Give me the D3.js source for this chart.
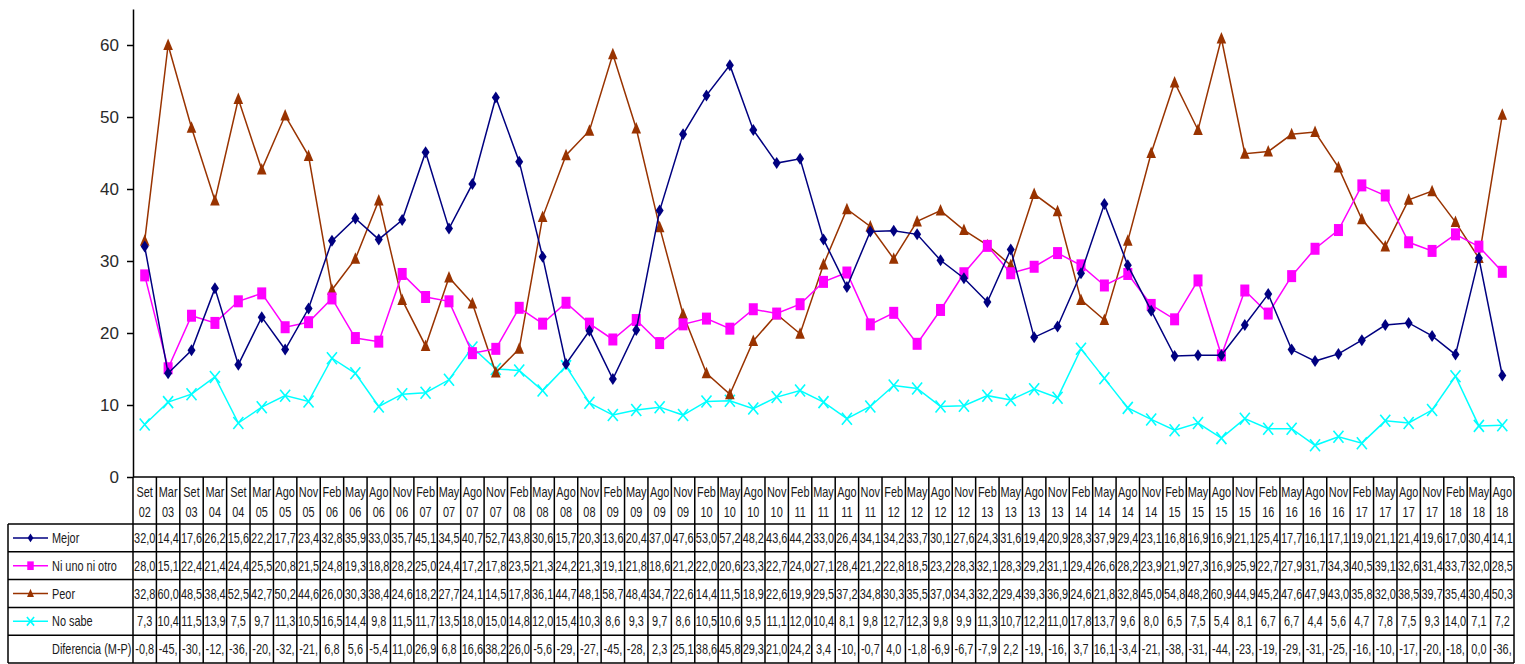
<!DOCTYPE html>
<html>
<head>
<meta charset="utf-8">
<script src="https://cdn.jsdelivr.net/npm/d3@7"></script>
<style>
  html, body { margin: 0; padding: 0; background: #fff; }
  svg { display: block; font-family: "Liberation Sans", Arial, sans-serif; }
</style>
</head>
<body>
<svg id="chart" width="1525" height="664"></svg>
<script>
(function () {
  'use strict';

  var periods = [
    'Set 02','Mar 03','Set 03','Mar 04','Set 04','Mar 05','Ago 05','Nov 05','Feb 06','May 06',
    'Ago 06','Nov 06','Feb 07','May 07','Ago 07','Nov 07','Feb 08','May 08','Ago 08','Nov 08',
    'Feb 09','May 09','Ago 09','Nov 09','Feb 10','May 10','Ago 10','Nov 10','Feb 11','May 11',
    'Ago 11','Nov 11','Feb 12','May 12','Ago 12','Nov 12','Feb 13','May 13','Ago 13','Nov 13',
    'Feb 14','May 14','Ago 14','Nov 14','Feb 15','May 15','Ago 15','Nov 15','Feb 16','May 16',
    'Ago 16','Nov 16','Feb 17','May 17','Ago 17','Nov 17','Feb 18','May 18','Ago 18'
  ];

  var mejor = [32.0,14.4,17.6,26.2,15.6,22.2,17.7,23.4,32.8,35.9,
    33.0,35.7,45.1,34.5,40.7,52.7,43.8,30.6,15.7,20.3,
    13.6,20.4,37.0,47.6,53.0,57.2,48.2,43.6,44.2,33.0,
    26.4,34.1,34.2,33.7,30.1,27.6,24.3,31.6,19.4,20.9,
    28.3,37.9,29.4,23.1,16.8,16.9,16.9,21.1,25.4,17.7,
    16.1,17.1,19.0,21.1,21.4,19.6,17.0,30.4,14.1];

  var niUnoNiOtro = [28.0,15.1,22.4,21.4,24.4,25.5,20.8,21.5,24.8,19.3,
    18.8,28.2,25.0,24.4,17.2,17.8,23.5,21.3,24.2,21.3,
    19.1,21.8,18.6,21.2,22.0,20.6,23.3,22.7,24.0,27.1,
    28.4,21.2,22.8,18.5,23.2,28.3,32.1,28.3,29.2,31.1,
    29.4,26.6,28.2,23.9,21.9,27.3,16.9,25.9,22.7,27.9,
    31.7,34.3,40.5,39.1,32.6,31.4,33.7,32.0,28.5];

  var peor = [32.8,60.0,48.5,38.4,52.5,42.7,50.2,44.6,26.0,30.3,
    38.4,24.6,18.2,27.7,24.1,14.5,17.8,36.1,44.7,48.1,
    58.7,48.4,34.7,22.6,14.4,11.5,18.9,22.6,19.9,29.5,
    37.2,34.8,30.3,35.5,37.0,34.3,32.2,29.4,39.3,36.9,
    24.6,21.8,32.8,45.0,54.8,48.2,60.9,44.9,45.2,47.6,
    47.9,43.0,35.8,32.0,38.5,39.7,35.4,30.4,50.3];

  var noSabe = [7.3,10.4,11.5,13.9,7.5,9.7,11.3,10.5,16.5,14.4,
    9.8,11.5,11.7,13.5,18.0,15.0,14.8,12.0,15.4,10.3,
    8.6,9.3,9.7,8.6,10.5,10.6,9.5,11.1,12.0,10.4,
    8.1,9.8,12.7,12.3,9.8,9.9,11.3,10.7,12.2,11.0,
    17.8,13.7,9.6,8.0,6.5,7.5,5.4,8.1,6.7,6.7,
    4.4,5.6,4.7,7.8,7.5,9.3,14.0,7.1,7.2];

  // Diferencia (M-P) as printed in the (narrow, clipped) table cells
  var diferencia = ['-0,8','-45,','-30,','-12,','-36,','-20,','-32,','-21,','6,8','5,6',
    '-5,4','11,0','26,9','6,8','16,6','38,2','26,0','-5,6','-29,','-27,',
    '-45,','-28,','2,3','25,1','38,6','45,8','29,3','21,0','24,2','3,4',
    '-10,','-0,7','4,0','-1,8','-6,9','-6,7','-7,9','2,2','-19,','-16,',
    '3,7','16,1','-3,4','-21,','-38,','-31,','-44,','-23,','-19,','-29,',
    '-31,','-25,','-16,','-10,','-17,','-20,','-18,','0,0','-36,'];

  var yTicks = [0, 10, 20, 30, 40, 50, 60];

  var series = [
    { name: 'Mejor',          values: mejor,       color: '#000080', marker: 'diamond'  },
    { name: 'Ni uno ni otro', values: niUnoNiOtro, color: '#ff00ff', marker: 'square'   },
    { name: 'Peor',           values: peor,        color: '#993300', marker: 'triangle' },
    { name: 'No sabe',        values: noSabe,      color: '#00ffff', marker: 'cross'    }
  ];

  // --- Layout ---
  var TABLE_LEFT = 8;
  var PLOT_LEFT  = 133;
  var PLOT_RIGHT = 1514;
  var AXIS_TOP   = 9;
  var AXIS_ZERO  = 477;
  var HEADER_BOTTOM = 524;
  var ROW_H      = 27.8;
  var TEXT_SX    = 0.78;     // horizontal squeeze of the table text
  var INK        = '#1a1a1a';

  var svg = d3.select('#chart');

  var x = d3.scaleBand()
    .domain(periods)
    .range([PLOT_LEFT, PLOT_RIGHT]);

  var y = d3.scaleLinear()
    .domain([0, 65])
    .range([AXIS_ZERO, AXIS_TOP]);

  function cx(d, i) { return x(periods[i]) + x.bandwidth() / 2; }

  // --- Y axis ---
  var yAxis = svg.append('g')
    .attr('transform', 'translate(' + PLOT_LEFT + ',0)')
    .call(d3.axisLeft(y).tickValues(yTicks).tickSize(6).tickSizeOuter(0).tickPadding(8));
  yAxis.select('.domain').attr('stroke', '#000').attr('stroke-width', 1.5);
  yAxis.selectAll('.tick line').attr('stroke', '#000').attr('stroke-width', 1.5);
  yAxis.selectAll('.tick text')
    .attr('fill', '#2a2a2a')
    .style('font-size', '17px')
    .style('font-family', '"Liberation Sans", Arial, sans-serif');

  // --- Markers ---
  function drawMarker(sel, type, color, s) {
    s = s || 1;
    if (type === 'diamond') {
      sel.append('path')
        .attr('d', 'M0,' + (-6 * s) + 'L' + (4 * s) + ',0L0,' + (6 * s) + 'L' + (-4 * s) + ',0Z')
        .attr('fill', color);
    } else if (type === 'square') {
      sel.append('rect')
        .attr('x', -4.5 * s).attr('y', -6 * s)
        .attr('width', 9 * s).attr('height', 12 * s)
        .attr('fill', color);
    } else if (type === 'triangle') {
      sel.append('path')
        .attr('d', 'M0,' + (-6.5 * s) + 'L' + (4.8 * s) + ',' + (5 * s) + 'L' + (-4.8 * s) + ',' + (5 * s) + 'Z')
        .attr('fill', color);
    } else if (type === 'cross') {
      sel.append('path')
        .attr('d', 'M' + (-5 * s) + ',' + (-6 * s) + 'L' + (5 * s) + ',' + (6 * s) +
                   'M' + (5 * s) + ',' + (-6 * s) + 'L' + (-5 * s) + ',' + (6 * s))
        .attr('stroke', color)
        .attr('stroke-width', 1.6)
        .attr('fill', 'none');
    }
  }

  // --- Lines (drawn back to front: No sabe first) ---
  var line = d3.line()
    .x(cx)
    .y(function (d) { return y(d); });

  var plot = svg.append('g').attr('class', 'series');
  series.slice().reverse().forEach(function (s) {
    var g = plot.append('g');
    g.append('path')
      .datum(s.values)
      .attr('d', line)
      .attr('fill', 'none')
      .attr('stroke', s.color)
      .attr('stroke-width', 1.5);

    g.selectAll('g.pt')
      .data(s.values)
      .enter()
      .append('g')
      .attr('class', 'pt')
      .attr('transform', function (d, i) { return 'translate(' + cx(d, i) + ',' + y(d) + ')'; })
      .each(function () { drawMarker(d3.select(this), s.marker, s.color); });
  });

  // --- Data table ---
  var table = svg.append('g').attr('class', 'table');

  function cellText(parent, tx, ty, str, anchor) {
    parent.append('text')
      .attr('transform', 'translate(' + tx + ',' + ty + ') scale(' + TEXT_SX + ',1)')
      .attr('text-anchor', anchor || 'middle')
      .attr('fill', INK)
      .style('font-size', '14px')
      .text(str);
  }

  // header (period labels on two lines)
  periods.forEach(function (p) {
    var parts = p.split(' ');
    var mx = x(p) + x.bandwidth() / 2;
    cellText(table, mx, 497, parts[0]);
    cellText(table, mx, 517, parts[1]);
  });

  var rows = series.map(function (s) {
    return { label: s.name, cells: s.values.map(function (v) { return v.toFixed(1).replace('.', ','); }), s: s };
  });
  rows.push({ label: 'Diferencia (M-P)', cells: diferencia, s: null });

  rows.forEach(function (r, ri) {
    var top = HEADER_BOTTOM + ri * ROW_H;
    var mid = top + ROW_H / 2;

    if (r.s) {
      var lg = table.append('g');
      lg.append('line')
        .attr('x1', 13).attr('x2', 48)
        .attr('y1', mid).attr('y2', mid)
        .attr('stroke', r.s.color)
        .attr('stroke-width', 1.5);
      var mk = lg.append('g').attr('transform', 'translate(30.5,' + mid + ')');
      drawMarker(mk, r.s.marker, r.s.color, 0.72);
    }
    cellText(table, 52, mid + 5, r.label, 'start');

    r.cells.forEach(function (c, i) {
      cellText(table, x(periods[i]) + x.bandwidth() / 2, mid + 5, c);
    });
  });

  // grid lines of the table
  var grid = table.append('g')
    .attr('stroke', '#000')
    .attr('stroke-width', 1.5)
    .attr('fill', 'none');

  var tableBottom = HEADER_BOTTOM + rows.length * ROW_H;

  // x axis line / top of header
  grid.append('line')
    .attr('x1', PLOT_LEFT).attr('x2', PLOT_RIGHT)
    .attr('y1', AXIS_ZERO).attr('y2', AXIS_ZERO);

  // horizontal row lines
  d3.range(rows.length + 1).forEach(function (k) {
    var yy = HEADER_BOTTOM + k * ROW_H;
    grid.append('line')
      .attr('x1', TABLE_LEFT).attr('x2', PLOT_RIGHT)
      .attr('y1', yy).attr('y2', yy);
  });

  // vertical column lines
  periods.forEach(function (p) {
    grid.append('line')
      .attr('x1', x(p)).attr('x2', x(p))
      .attr('y1', AXIS_ZERO).attr('y2', tableBottom);
  });
  grid.append('line')
    .attr('x1', PLOT_RIGHT).attr('x2', PLOT_RIGHT)
    .attr('y1', AXIS_ZERO).attr('y2', tableBottom);
  grid.append('line')
    .attr('x1', TABLE_LEFT).attr('x2', TABLE_LEFT)
    .attr('y1', HEADER_BOTTOM).attr('y2', tableBottom);
})();
</script>
</body>
</html>
